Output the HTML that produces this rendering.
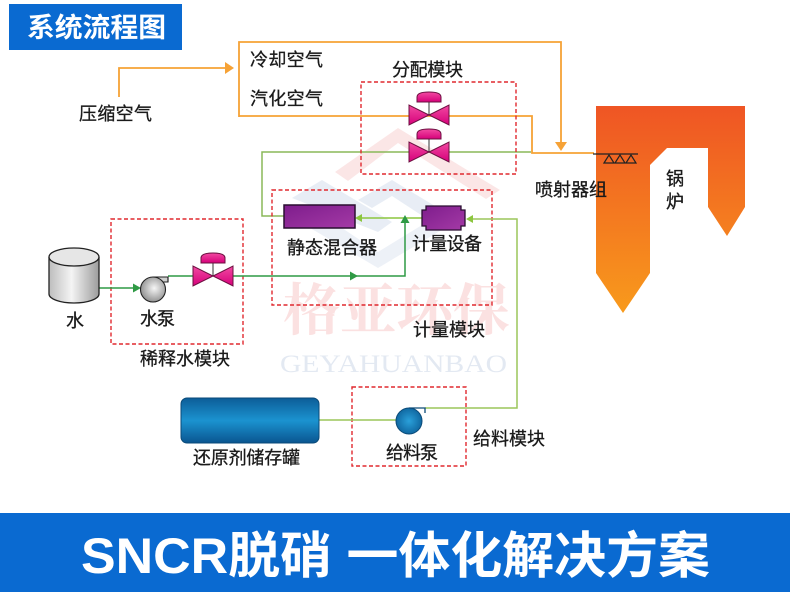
<!DOCTYPE html>
<html>
<head>
<meta charset="utf-8">
<style>
html,body{margin:0;padding:0;background:#fff;}
body{width:790px;height:593px;overflow:hidden;}
svg{display:block;}
text{font-family:"Liberation Sans","Noto Sans CJK SC",sans-serif;}
.lbl{font-size:18px;fill:#1a1a1a;stroke:#1a1a1a;stroke-width:0.3;}
</style>
</head>
<body>
<svg width="790" height="593" viewBox="0 0 790 593" xmlns="http://www.w3.org/2000/svg">
<defs>
  <linearGradient id="boil" x1="0" y1="0" x2="0" y2="1">
    <stop offset="0" stop-color="#ef5524"/>
    <stop offset="1" stop-color="#f89a1c"/>
  </linearGradient>
  <linearGradient id="mag" x1="0" y1="0" x2="0" y2="1">
    <stop offset="0" stop-color="#f24aa2"/>
    <stop offset="1" stop-color="#d6007a"/>
  </linearGradient>
  <linearGradient id="pur" x1="0" y1="0" x2="1" y2="1">
    <stop offset="0" stop-color="#7e1d8c"/>
    <stop offset="1" stop-color="#a43aa6"/>
  </linearGradient>
  <linearGradient id="gray" x1="0" y1="0" x2="1" y2="0">
    <stop offset="0" stop-color="#bdbdbd"/>
    <stop offset="0.45" stop-color="#f4f4f4"/>
    <stop offset="1" stop-color="#9c9c9c"/>
  </linearGradient>
  <radialGradient id="pg" cx="0.55" cy="0.45" r="0.6">
    <stop offset="0" stop-color="#f6f6f6"/>
    <stop offset="1" stop-color="#8a8a8a"/>
  </radialGradient>
  <linearGradient id="tankb" x1="0" y1="0" x2="0" y2="1">
    <stop offset="0" stop-color="#0c5d98"/>
    <stop offset="0.5" stop-color="#1b93d0"/>
    <stop offset="1" stop-color="#0a5590"/>
  </linearGradient>
  <radialGradient id="bp" cx="0.5" cy="0.5" r="0.6">
    <stop offset="0" stop-color="#2aa0da"/>
    <stop offset="1" stop-color="#0b5d96"/>
  </radialGradient>
</defs>

<!-- watermark logo -->
<g opacity="0.55">
  <polygon points="335,172 398,128 500,190 486,199 398,143 348,181" fill="#f9d3d3"/>
  <polygon points="292,198 322,180 392,222 378,232" fill="#d6e0ee"/>
  <polygon points="358,200 392,180 458,220 444,230 392,196 372,208" fill="#d6e0ee"/>
  <polygon points="300,222 318,212 378,252 440,214 455,222 378,268" fill="#dfe6f1"/>
</g>
<text x="283" y="330" font-size="56" font-weight="bold" fill="#fbe1e1" textLength="227" lengthAdjust="spacingAndGlyphs" style="font-family:'Liberation Serif','Noto Serif CJK SC',serif">格亚环保</text>
<text x="280" y="372" font-size="25" fill="#e3e9f2" textLength="227" lengthAdjust="spacingAndGlyphs" style="font-family:'Liberation Serif',serif">GEYAHUANBAO</text>

<!-- title box -->
<rect x="9" y="4" width="173" height="46" fill="#0a6ad1"/>
<text x="27" y="37" font-size="27" font-weight="bold" fill="#fff" textLength="139" lengthAdjust="spacingAndGlyphs">系统流程图</text>

<!-- orange air lines -->
<g fill="none" stroke="#f6a236" stroke-width="1.8">
  <path d="M119,97 V68 H226"/>
  <path d="M239,117 V42 H561 V143"/>
  <path d="M239,116 H532 V153 H594"/>
</g>
<polygon points="225,62 234,68 225,74" fill="#f6a236"/>
<polygon points="555,142 567,142 561,151" fill="#f6a236"/>

<!-- olive green line through valve 2 -->
<path d="M284,216 H262 V152 H531" fill="none" stroke="#8ab858" stroke-width="1.5"/>

<!-- boiler -->
<path d="M596,106 H745 V207 L727,236 L708,207 V148 H667 L650,165 V273 L623,313 L596,273 Z" fill="url(#boil)"/>

<!-- nozzle -->
<g fill="none" stroke="#222" stroke-width="1.2">
  <path d="M593,154 H638"/>
  <path d="M604,163 L609,155 L614,163 Z M615,163 L620,155 L625,163 Z M626,163 L631,155 L636,163 Z"/>
</g>

<!-- red dashed modules -->
<g fill="none" stroke="#e0292f" stroke-width="1.4" stroke-dasharray="4 2.5">
  <rect x="361" y="82" width="155" height="92"/>
  <rect x="272" y="190" width="220" height="115"/>
  <rect x="111" y="219" width="132" height="125"/>
  <rect x="352" y="387" width="114" height="79"/>
</g>

<!-- metering -> mixer light green -->
<path d="M422,218 H360" fill="none" stroke="#8cc63f" stroke-width="1.5"/>
<polygon points="355,218 362,214 362,222" fill="#8cc63f"/>
<!-- feed line -->
<path d="M425,408 H517 V219 H472" fill="none" stroke="#9cc65a" stroke-width="1.5"/>
<polygon points="466,219 473,215 473,223" fill="#8cc63f"/>
<!-- reductant tank to pump -->
<path d="M319,420 H397" fill="none" stroke="#9cc65a" stroke-width="1.5"/>

<!-- dark green water line -->
<g fill="none" stroke="#2f9a45" stroke-width="1.5">
  <path d="M99,288 H136"/>
  <path d="M168,276 H195"/>
  <path d="M232,276 H405 V222"/>
</g>
<polygon points="141,288 133,283.5 133,292.5" fill="#2f9a45"/>
<polygon points="405,215 400.5,223 409.5,223" fill="#2f9a45"/>
<polygon points="358,276 350,271.5 350,280.5" fill="#2f9a45"/>

<!-- valves -->
<g stroke="#6b1040" stroke-width="1">
  <g transform="translate(429,115)">
    <line x1="0" y1="0" x2="0" y2="-13" stroke="#333"/>
    <polygon points="-20,-10 -20,10 0,0" fill="url(#mag)"/>
    <polygon points="20,-10 20,10 0,0" fill="url(#mag)"/>
    <path d="M-12,-13 V-18 Q-12,-23 0,-23 Q12,-23 12,-18 V-13 Z" fill="url(#mag)"/>
  </g>
  <g transform="translate(429,152)">
    <line x1="0" y1="0" x2="0" y2="-13" stroke="#333"/>
    <polygon points="-20,-10 -20,10 0,0" fill="url(#mag)"/>
    <polygon points="20,-10 20,10 0,0" fill="url(#mag)"/>
    <path d="M-12,-13 V-18 Q-12,-23 0,-23 Q12,-23 12,-18 V-13 Z" fill="url(#mag)"/>
  </g>
  <g transform="translate(213,276)">
    <line x1="0" y1="0" x2="0" y2="-13" stroke="#333"/>
    <polygon points="-20,-10 -20,10 0,0" fill="url(#mag)"/>
    <polygon points="20,-10 20,10 0,0" fill="url(#mag)"/>
    <path d="M-12,-13 V-18 Q-12,-23 0,-23 Q12,-23 12,-18 V-13 Z" fill="url(#mag)"/>
  </g>
</g>

<!-- static mixer -->
<rect x="284" y="205" width="71" height="23" fill="url(#pur)" stroke="#2a0f30" stroke-width="1.5"/>
<!-- metering device -->
<path d="M426,206 H461 V210 H465 V226 H461 V230 H426 V226 H422 V210 H426 Z" fill="url(#pur)" stroke="#2a0f30" stroke-width="1.3"/>

<!-- water tank -->
<path d="M49,257 V294 A25,9 0 0 0 99,294 V257" fill="url(#gray)" stroke="#222" stroke-width="1.3"/>
<ellipse cx="74" cy="257" rx="25" ry="9" fill="#e6e6e6" stroke="#222" stroke-width="1.3"/>

<!-- water pump -->
<path d="M153,277 H168 V282 H160" fill="#cfcfcf" stroke="#222" stroke-width="1.1"/>
<circle cx="153" cy="289.5" r="12.5" fill="url(#pg)" stroke="#222" stroke-width="1.1"/>
<path d="M153,277 H168 V282" fill="none" stroke="#222" stroke-width="1.1"/>

<!-- reductant tank -->
<rect x="181" y="398" width="138" height="45" rx="6" fill="url(#tankb)" stroke="#0a4a78" stroke-width="1"/>

<!-- feed pump -->
<circle cx="409" cy="421" r="13" fill="url(#bp)" stroke="#0a4a78" stroke-width="1"/>
<path d="M409,408 H425 V413" fill="none" stroke="#0a4a78" stroke-width="1.3"/>

<!-- labels -->
<text class="lbl" x="79" y="120" textLength="73">压缩空气</text>
<text class="lbl" x="250" y="66" textLength="73">冷却空气</text>
<text class="lbl" x="250" y="105" textLength="73">汽化空气</text>
<text class="lbl" x="392" y="76" textLength="71">分配模块</text>
<text class="lbl" x="535" y="196" textLength="72">喷射器组</text>
<text class="lbl" x="666" y="185">锅</text>
<text class="lbl" x="666" y="208">炉</text>
<text class="lbl" x="287" y="254" textLength="90">静态混合器</text>
<text class="lbl" x="412" y="250" textLength="70">计量设备</text>
<text class="lbl" x="413" y="336" textLength="72">计量模块</text>
<text class="lbl" x="66" y="327">水</text>
<text class="lbl" x="140" y="325" textLength="35">水泵</text>
<text class="lbl" x="140" y="365" textLength="90">稀释水模块</text>
<text class="lbl" x="193" y="464" textLength="107">还原剂储存罐</text>
<text class="lbl" x="386" y="459" textLength="52">给料泵</text>
<text class="lbl" x="473" y="445" textLength="72">给料模块</text>

<!-- bottom banner -->
<rect x="0" y="513" width="790" height="79" fill="#0a6ad1"/>
<text x="81" y="573" font-size="50" font-weight="bold" fill="#fff" textLength="629" lengthAdjust="spacingAndGlyphs">SNCR脱硝 一体化解决方案</text>
</svg>
</body>
</html>
